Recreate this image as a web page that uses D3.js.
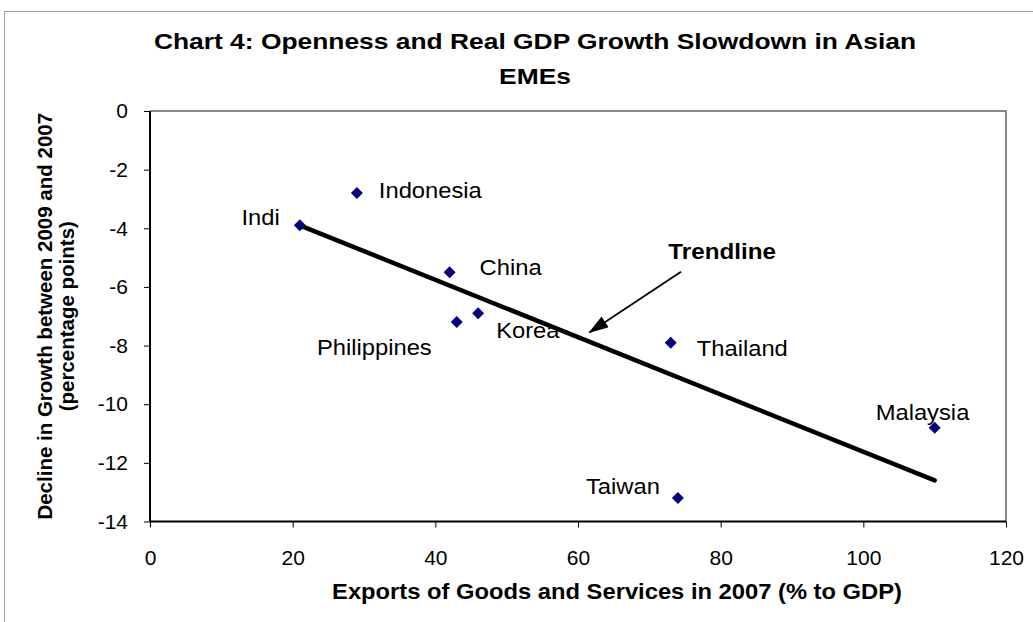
<!DOCTYPE html>
<html>
<head>
  <meta charset="utf-8">
  <title>Openness and Real GDP Growth Slowdown</title>
  <style>
    body { margin: 0; background: #fff; }
    text { font-family: Arial, "Liberation Sans", sans-serif; fill: #000; }
    .bold { font-weight: bold; }
  </style>
</head>
<body>
<div id="chart"></div>
<script src="https://d3js.org/d3.v7.min.js"></script>
<script>
// ******* Data *******
const countries = ["Indi", "Indonesia", "China", "Philippines", "Korea", "Thailand", "Malaysia", "Taiwan"];
const exportsPct = [21, 29, 42, 43, 46, 73, 110, 74];
const growthDecline = [-3.9, -2.8, -5.5, -7.2, -6.9, -7.9, -10.8, -13.2];
const xTicks = [0, 20, 40, 60, 80, 100, 120];
const yTicks = [0, -2, -4, -6, -8, -10, -12, -14];
// trendline end points
const trendX = [21, 110];
const trendY = [-3.9, -12.6];

// label placement in pixels relative to each point (layout only)
const labelPos = [
  {dx: -20, dy: 0, anchor: "end"},
  {dx: 22, dy: 5, anchor: "start"},
  {dx: 30, dy: 3, anchor: "start"},
  {dx: -25, dy: 33, anchor: "end"},
  {dx: 18, dy: 25, anchor: "start"},
  {dx: 26, dy: 13, anchor: "start"},
  {dx: -59, dy: -8, anchor: "start"},
  {dx: -18, dy: -4, anchor: "end"}
];

const width = 1033, height = 622;
const margin = {top: 111, right: 27, bottom: 100.5, left: 150};

const svg = d3.select("#chart").append("svg")
  .attr("width", width)
  .attr("height", height);

// text drawn a little wider than the font, like the stretched original
function addText(parent, px, py, str, size, sx, cls, anchor) {
  return parent.append("text")
    .attr("class", cls || null)
    .attr("text-anchor", anchor || "middle")
    .attr("transform", `translate(${px},${py}) scale(${sx},1)`)
    .style("font-size", size + "px")
    .text(str);
}

// outer chart frame
svg.append("rect")
  .attr("x", 4.5).attr("y", 11.5)
  .attr("width", 1040).attr("height", 640)
  .attr("fill", "none").attr("stroke", "#a0a0a0").attr("stroke-width", 1);

const x = d3.scaleLinear().domain([0, 120]).range([margin.left, width - margin.right]);
const y = d3.scaleLinear().domain([-14, 0]).range([height - margin.bottom, margin.top]);

// plot area border, top and right in grey
svg.append("path")
  .attr("d", `M${x(0)},${y(0)}H${x(120)}V${y(-14)}`)
  .attr("fill", "none").attr("stroke", "#888").attr("stroke-width", 2);

// ******* Axes *******
const xAxis = svg.append("g")
  .attr("transform", `translate(0,${y(-14)})`)
  .call(d3.axisBottom(x).tickValues(xTicks).tickSize(6).tickPadding(23).tickFormat(d3.format("d")));
const yAxis = svg.append("g")
  .attr("transform", `translate(${x(0)},0)`)
  .call(d3.axisLeft(y).tickValues(yTicks).tickSize(6).tickPadding(16).tickFormat(d => d));

[xAxis, yAxis].forEach(g => {
  g.select(".domain").attr("stroke", "#000").attr("stroke-width", 2);
  g.selectAll(".tick line").attr("stroke", "#000");
  g.selectAll(".tick text")
    .style("font-family", "Arial, 'Liberation Sans', sans-serif")
    .style("font-size", "21px")
    .attr("fill", "#000");
});
xAxis.select(".domain").attr("d", `M${x(0)},0H${x(120)}`);
yAxis.select(".domain").attr("d", `M0,${y(0)}V${y(-14)}`);

// ******* Trendline *******
svg.append("line")
  .attr("x1", x(trendX[0])).attr("y1", y(trendY[0]))
  .attr("x2", x(trendX[1])).attr("y2", y(trendY[1]))
  .attr("stroke", "#000").attr("stroke-width", 4.5).attr("stroke-linecap", "round");

// ******* Points and labels *******
const pts = countries.map((c, i) => ({name: c, x: exportsPct[i], y: growthDecline[i], pos: labelPos[i]}));

svg.selectAll(".pt")
  .data(pts)
  .enter().append("path")
  .attr("class", "pt")
  .attr("d", d3.symbol(d3.symbolSquare, 72))
  .attr("transform", d => `translate(${x(d.x)},${y(d.y)}) rotate(45)`)
  .attr("fill", "#000080");

pts.forEach(d => {
  addText(svg, x(d.x) + d.pos.dx, y(d.y) + d.pos.dy, d.name, 22, 1.08, "lbl", d.pos.anchor);
});

// ******* Trendline annotation *******
svg.append("defs").append("marker")
  .attr("id", "arrow")
  .attr("viewBox", "0 0 20 13")
  .attr("refX", 19).attr("refY", 6.5)
  .attr("markerWidth", 20).attr("markerHeight", 13)
  .attr("markerUnits", "userSpaceOnUse")
  .attr("orient", "auto")
  .append("path").attr("d", "M0,0L20,6.5L0,13z").attr("fill", "#000");

svg.append("line")
  .attr("x1", x(74.44)).attr("y1", y(-5.48))
  .attr("x2", x(61.59)).attr("y2", y(-7.55))
  .attr("stroke", "#000").attr("stroke-width", 1.8)
  .attr("marker-end", "url(#arrow)");

addText(svg, x(80.2), y(-5.06), "Trendline", 22, 1.1, "bold", "middle");

// ******* Titles *******
addText(svg, 535, 49, "Chart 4: Openness and Real GDP Growth Slowdown in Asian", 22, 1.2, "bold", "middle");
addText(svg, 535, 84, "EMEs", 22, 1.2, "bold", "middle");

addText(svg, 617, 599, "Exports of Goods and Services in 2007 (% to GDP)", 22, 1.08, "bold", "middle");

const yTitle = svg.append("text")
  .attr("class", "bold")
  .attr("text-anchor", "middle")
  .attr("transform", `translate(52,${(y(0) + y(-14)) / 2}) rotate(-90)`)
  .style("font-size", "20.5px");
yTitle.append("tspan").attr("x", 0).attr("y", 0).text("Decline in Growth between 2009 and 2007");
yTitle.append("tspan").attr("x", 0).attr("y", 22).text("(percentage points)");
</script>
</body>
</html>
